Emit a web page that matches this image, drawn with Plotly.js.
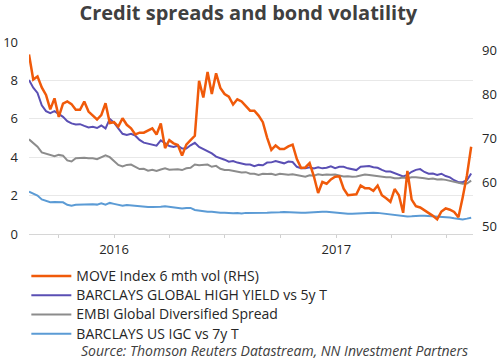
<!DOCTYPE html>
<html>
<head>
<meta charset="utf-8">
<script src="https://cdn.plot.ly/plotly-3.0.1.min.js"></script>
<style>
  html, body { margin: 0; padding: 0; background: #ffffff; }
  #chart { width: 500px; height: 359px; }
</style>
</head>
<body>
<div id="chart"></div>
<script>
// Weekly observations starting 2015-08-14
const startDate = '2015-08-14';

const seriesNames = [
  'MOVE Index 6 mth vol (RHS)',
  'BARCLAYS GLOBAL HIGH YIELD vs 5y T',
  'EMBI Global Diversified Spread',
  'BARCLAYS US IGC vs 7y T'
];

// MOVE Index 6 mth vol (right-hand scale)
const moveIndex = [
  89.0, 83.3, 84.0, 81.5, 79.8, 76.5, 79.0, 74.8, 77.8, 78.3,
  77.7, 76.4, 76.4, 78.3, 76.0, 75.0, 74.2, 75.2, 77.9, 73.4,
  73.6, 72.6, 74.5, 73.0, 72.2, 70.8, 71.2, 71.2, 71.8, 72.2,
  70.8, 73.3, 67.7, 69.5, 68.8, 68.4, 66.0, 68.5, 69.5, 70.5,
  83.0, 79.2, 85.0, 80.0, 84.7, 81.4, 80.0, 79.4, 77.6, 78.8,
  78.3, 77.2, 76.2, 76.2, 75.1, 73.6, 70.1, 67.3, 68.3, 67.5,
  67.5, 68.1, 68.5, 65.2, 63.2, 63.3, 64.3, 61.3, 57.5, 60.0,
  59.6, 60.6, 61.2, 61.3, 58.5, 57.0, 57.1, 57.2, 59.2, 58.6,
  58.6, 58.0, 59.2, 57.0, 56.3, 55.5, 58.4, 57.0, 53.0, 62.5,
  56.0, 54.5, 54.2, 53.6, 53.0, 52.3, 51.5, 53.3, 54.0, 53.7,
  53.2, 52.0, 56.5, 61.5, 68.0
];

// Barclays Global High Yield vs 5y T
const highYield = [
  8.02, 7.62, 7.35, 6.70, 6.40, 6.30, 6.40, 6.25, 6.10, 5.88,
  5.76, 5.70, 5.72, 5.63, 5.55, 5.58, 5.52, 5.65, 5.50, 6.00,
  5.80, 5.50, 5.22, 5.16, 5.22, 5.12, 4.90, 4.76, 4.70, 4.62,
  4.60, 4.88, 4.75, 4.58, 4.53, 4.60, 4.45, 4.45, 4.62, 4.75,
  4.53, 4.42, 4.32, 4.20, 4.03, 3.97, 3.87, 3.77, 3.80, 3.72,
  3.66, 3.62, 3.62, 3.53, 3.60, 3.58, 3.72, 3.73, 3.80, 3.72,
  3.68, 3.77, 3.75, 3.50, 3.42, 3.42, 3.48, 3.42, 3.48, 3.42,
  3.45, 3.53, 3.43, 3.50, 3.50, 3.42, 3.37, 3.33, 3.50, 3.52,
  3.54, 3.48, 3.45, 3.34, 3.25, 3.25, 3.18, 3.07, 3.00, 3.08,
  3.24, 3.34, 3.38, 3.23, 3.14, 3.15, 3.08, 3.14, 3.02, 2.95,
  2.80, 2.70, 2.70, 2.80, 3.15
];

// EMBI Global Diversified Spread
const embi = [
  4.93, 4.75, 4.55, 4.25, 4.18, 4.13, 4.05, 4.12, 4.08, 3.83,
  3.78, 3.95, 3.96, 3.97, 3.94, 3.94, 3.90, 3.99, 4.10, 4.00,
  3.82, 3.60, 3.52, 3.60, 3.62, 3.50, 3.38, 3.40, 3.30, 3.35,
  3.28, 3.36, 3.42, 3.35, 3.36, 3.37, 3.33, 3.42, 3.45, 3.62,
  3.58, 3.62, 3.62, 3.50, 3.55, 3.40, 3.33, 3.33, 3.28, 3.27,
  3.20, 3.22, 3.14, 3.14, 3.08, 3.14, 3.12, 3.14, 3.08, 3.14,
  3.10, 3.08, 3.11, 3.07, 3.03, 2.98, 3.06, 3.04, 3.11, 3.07,
  3.10, 3.08, 3.10, 3.06, 3.00, 3.01, 2.98, 3.00, 3.04, 3.10,
  3.07, 3.04, 3.00, 2.98, 2.95, 2.96, 2.91, 2.90, 2.94, 2.90,
  2.96, 2.95, 2.94, 2.90, 2.87, 2.89, 2.84, 2.85, 2.82, 2.76,
  2.72, 2.68, 2.62, 2.63, 2.78
];

// Barclays US IGC vs 7y T
const igc = [
  2.20, 2.10, 2.00, 1.80, 1.72, 1.66, 1.67, 1.65, 1.65, 1.52,
  1.47, 1.52, 1.53, 1.54, 1.52, 1.55, 1.53, 1.60, 1.53, 1.62,
  1.57, 1.50, 1.47, 1.51, 1.48, 1.45, 1.44, 1.42, 1.40, 1.41,
  1.40, 1.42, 1.45, 1.42, 1.36, 1.33, 1.33, 1.35, 1.36, 1.25,
  1.21, 1.17, 1.16, 1.16, 1.12, 1.11, 1.11, 1.08, 1.08, 1.09,
  1.07, 1.10, 1.10, 1.08, 1.09, 1.10, 1.11, 1.12, 1.11, 1.13,
  1.15, 1.13, 1.12, 1.11, 1.11, 1.11, 1.13, 1.15, 1.15, 1.16,
  1.16, 1.13, 1.11, 1.08, 1.05, 1.05, 1.05, 1.06, 1.09, 1.11,
  1.11, 1.11, 1.10, 1.07, 1.05, 1.04, 1.00, 0.97, 0.94, 0.91,
  0.92, 0.95, 0.95, 0.95, 0.94, 0.92, 0.90, 0.90, 0.89, 0.86,
  0.82, 0.79, 0.76, 0.80, 0.85
];

const leftTicks = [0, 2, 4, 6, 8, 10];
const rightTicks = [50, 60, 70, 80, 90];
const quarterTicks = ['2015-10-01', '2016-01-01', '2016-04-01', '2016-07-01', '2016-10-01',
                      '2017-01-01', '2017-04-01', '2017-07-01'];
const quarterLabels = ['', '2016', '', '', '', '2017', '', ''];

function weeklyDates(n) {
  const t0 = Date.parse(startDate + 'T00:00:00Z');
  const out = [];
  for (let i = 0; i < n; i++) {
    out.push(new Date(t0 + i * 7 * 86400000).toISOString().slice(0, 10));
  }
  return out;
}
const dates = weeklyDates(moveIndex.length);

function legendLabel(s) {
  return '<span style="font-size:14px">' + s + '</span>';
}

const traces = [
  { x: dates, y: moveIndex, name: legendLabel(seriesNames[0]), yaxis: 'y2', type: 'scatter', mode: 'lines',
    line: { color: '#F05A0A', width: 2.5 } },
  { x: dates, y: highYield, name: legendLabel(seriesNames[1]), type: 'scatter', mode: 'lines',
    line: { color: '#5A4FB4', width: 2 } },
  { x: dates, y: embi, name: legendLabel(seriesNames[2]), type: 'scatter', mode: 'lines',
    line: { color: '#8C8C8C', width: 2 } },
  { x: dates, y: igc, name: legendLabel(seriesNames[3]), type: 'scatter', mode: 'lines',
    line: { color: '#5B9BD5', width: 2 } }
];

const font = 'Open Sans, Liberation Sans, sans-serif';

const layout = {
  width: 500, height: 359,
  margin: { l: 29, r: 27, t: 42, b: 125, pad: 0, autoexpand: false },
  paper_bgcolor: '#ffffff', plot_bgcolor: '#ffffff',
  font: { family: font, size: 13, color: '#262626' },
  title: {
    text: '<b>Credit spreads and bond volatility</b>',
    font: { family: font, size: 20, color: '#404040' },
    x: 0.494, xanchor: 'center', xref: 'paper',
    y: 1 - 13 / 359, yanchor: 'middle', yref: 'container'
  },
  xaxis: {
    type: 'date',
    range: ['2015-08-14', '2017-08-14'],
    tickmode: 'array', tickvals: quarterTicks, ticktext: quarterLabels,
    ticks: 'outside', ticklen: 3, tickcolor: '#d0d0d0', tickwidth: 1,
    showgrid: false, showline: false, zeroline: false,
    tickfont: { family: font, size: 13, color: '#262626' }
  },
  yaxis: {
    range: [0, 10], tickvals: leftTicks,
    showgrid: true, gridcolor: '#e8e8e8', gridwidth: 1,
    zeroline: true, zerolinecolor: '#d6d6d6', zerolinewidth: 1,
    showline: false, ticks: '', ticklabelstandoff: 10,
    tickfont: { family: font, size: 13, color: '#262626' }
  },
  yaxis2: {
    overlaying: 'y', side: 'right',
    range: [48.18, 91.82], tickvals: rightTicks,
    showgrid: false, zeroline: false, showline: false, ticks: '',
    ticklabelstandoff: 8,
    tickfont: { family: font, size: 13, color: '#262626' }
  },
  showlegend: true,
  legend: {
    x: -0.006, xanchor: 'left', xref: 'paper',
    y: -0.142, yanchor: 'top', yref: 'paper',
    orientation: 'v', itemwidth: 40,
    font: { family: font, size: 12.5, color: '#262626' },
    bgcolor: 'rgba(0,0,0,0)', borderwidth: 0, tracegroupgap: 0
  },
  annotations: [{
    text: '<i>Source: Thomson Reuters Datastream, NN Investment Partners</i>',
    xref: 'paper', yref: 'paper',
    x: (79 - 29) / 444, xanchor: 'left',
    y: (234 - 350) / 192, yanchor: 'middle',
    showarrow: false,
    font: { family: font, size: 14, color: '#404040' }
  }]
};

Plotly.newPlot('chart', traces, layout, { displayModeBar: false, staticPlot: true });
</script>
</body>
</html>
